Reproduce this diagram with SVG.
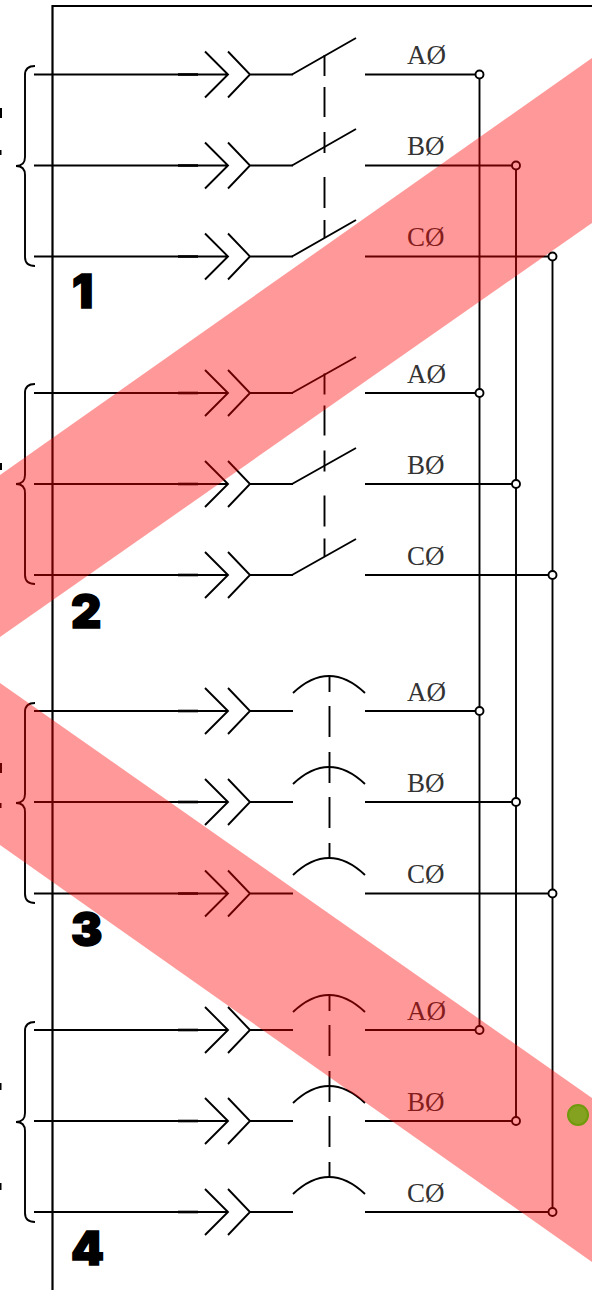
<svg xmlns="http://www.w3.org/2000/svg" width="592" height="1290" viewBox="0 0 592 1290">
<style>
.l{fill:none;stroke:#000;stroke-width:1.9}
.t{font:27px "Liberation Serif",serif;fill:#333}
.n{font:900 47px Inter,"Liberation Sans",sans-serif;fill:#000;stroke:#000;stroke-width:1.5}
.j{fill:#fff;stroke:#000;stroke-width:1.9}
.band{fill:#f00;fill-opacity:.4}
</style>
<defs>
<g id="ph"><path class="l" d="M34 0H228M205-23L228 0L205 23M228-23L250 0L228 23M250 0H293"/><path d="M178 0H198" stroke="#000" stroke-width="2.6"/></g>
<path id="br" class="l" d="M35-9C28-9 25-6 25 0V82C25 88 22 91 16 91C22 91 25 94 25 100V182C25 188 28 191 35 191"/>
<g id="swd"><path class="l" d="M324.5 55V76M324.5 87V117M324.5 132V153M324.5 177V208M324.5 220V238"/></g>
<g id="ctd"><path class="l" d="M329.5 676V692M329.5 706V737M329.5 752V783M329.5 797V828M329.5 843V858"/></g>
</defs>
<rect width="592" height="1290" fill="#fff"/>
<g id="connectors">
<path d="M52.5 1290V6H592" fill="none" stroke="#000" stroke-width="2.2"/>
<use href="#ph" y="74.5"/><use href="#ph" y="165.5"/><use href="#ph" y="256.5"/>
<use href="#ph" y="393"/><use href="#ph" y="484"/><use href="#ph" y="575"/>
<use href="#ph" y="711"/><use href="#ph" y="802"/><use href="#ph" y="893.5"/>
<use href="#ph" y="1030"/><use href="#ph" y="1121"/><use href="#ph" y="1212"/>
<path class="l" d="M479.5 74V1030M516 165V1121M552.5 256V1212"/>
<path class="l" d="M365 74.5H479M365 165.5H516M365 256.5H552M365 393H479M365 484H516M365 575H552M365 711H479M365 802H516M365 893.5H552M365 1030H479M365 1121H516M365 1212H552"/>
<path class="l" d="M292 74.5L356 38M292 165.5L356 129M292 256.5L356 220M292 393L356 357M292 484L356 448M292 575L356 539"/>
<use href="#swd"/><use href="#swd" y="318.5"/>
<path class="l" d="M293 693Q329 659 365 693M293 784Q329 750 365 784M293 875Q329 841 365 875M293 1012Q329 978 365 1012M293 1103Q329 1069 365 1103M293 1194Q329 1160 365 1194"/>
<use href="#ctd"/><use href="#ctd" y="319"/>
</g>
<g id="breakers">
<use href="#br" y="75"/><use href="#br" y="393"/><use href="#br" y="712"/><use href="#br" y="1031"/>
<path d="M0 108h2v10H0zM0 150h1.5v5H0zM0 463h2v7H0zM0 763h2v10H0zM0 803h1.5v5H0zM0 1083h1.5v7H0zM0 1183h1.5v7H0z" fill="#000"/>
</g>
<g id="junctions">
<circle class="j" cx="479.5" cy="74.5" r="4"/><circle class="j" cx="516" cy="165.5" r="4"/><circle class="j" cx="552.5" cy="256.5" r="4"/>
<circle class="j" cx="479.5" cy="393" r="4"/><circle class="j" cx="516" cy="484" r="4"/><circle class="j" cx="552.5" cy="575" r="4"/>
<circle class="j" cx="479.5" cy="711" r="4"/><circle class="j" cx="516" cy="802" r="4"/><circle class="j" cx="552.5" cy="893.5" r="4"/>
<circle class="j" cx="479.5" cy="1030" r="4"/><circle class="j" cx="516" cy="1121" r="4"/><circle class="j" cx="552.5" cy="1212" r="4"/>
</g>
<g id="labels">
<text class="t" x="407" y="64">AØ</text><text class="t" x="407" y="155">BØ</text><text class="t" x="407" y="246">CØ</text>
<text class="t" x="407" y="383">AØ</text><text class="t" x="407" y="474">BØ</text><text class="t" x="407" y="565">CØ</text>
<text class="t" x="407" y="701">AØ</text><text class="t" x="407" y="792">BØ</text><text class="t" x="407" y="883">CØ</text>
<text class="t" x="407" y="1020">AØ</text><text class="t" x="407" y="1111">BØ</text><text class="t" x="407" y="1202">CØ</text>
<text class="n" x="72" y="308">1</text><text class="n" x="71" y="628">2</text><text class="n" x="71" y="946">3</text><text class="n" x="71" y="1265">4</text>
</g>
<g id="bands">
<path class="band" d="M592 58V223L0 637V475Z"/>
<path class="band" d="M0 683L592 1098V1262L0 845Z"/>
</g>
<circle id="dot" cx="578" cy="1115" r="10" fill="#84a11f" stroke="#6f9a0c" stroke-width="2"/>
</svg>
